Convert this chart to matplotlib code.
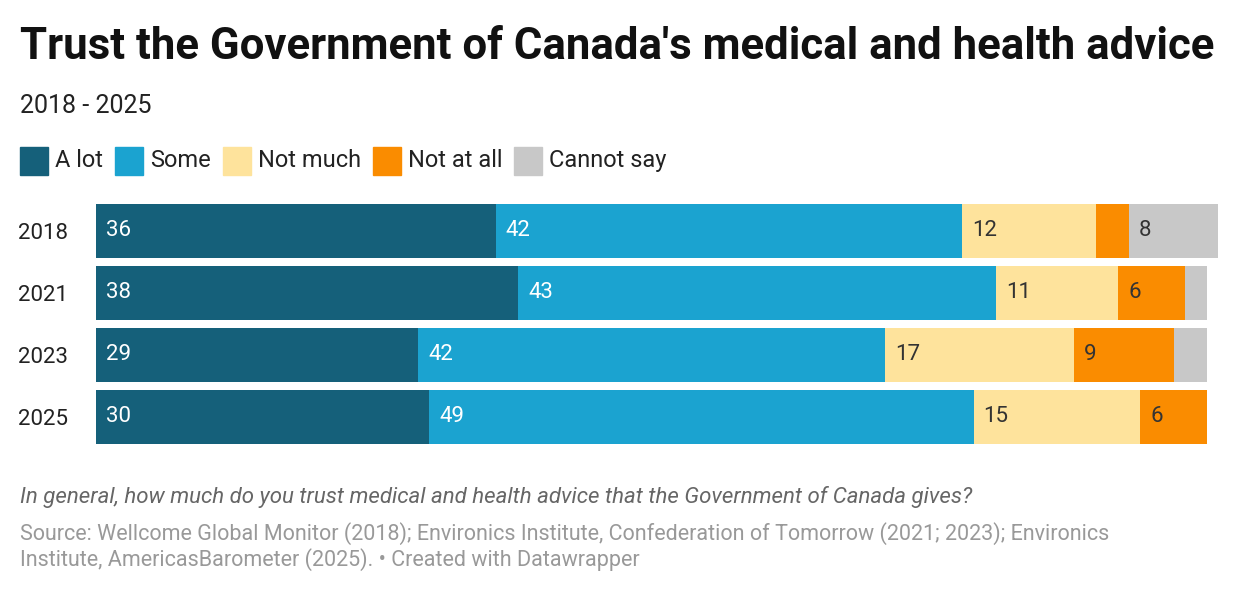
import matplotlib.pyplot as plt
from matplotlib.patches import Rectangle

plt.rcParams['font.family'] = ['Roboto', 'DejaVu Sans']

years = ['2018', '2021', '2023', '2025']
categories = ['A lot', 'Some', 'Not much', 'Not at all', 'Cannot say']
a_lot = [36, 38, 29, 30]
some = [42, 43, 42, 49]
not_much = [12, 11, 17, 15]
not_at_all = [3, 6, 9, 6]
cannot_say = [8, 2, 3, 0]

series = [a_lot, some, not_much, not_at_all, cannot_say]
colors = ['#15607a', '#1ba3d0', '#fee39c', '#fa8c00', '#c8c8c8']
text_colors = ['white', 'white', '#333333', '#333333', '#333333']

fig = plt.figure(figsize=(12.4, 5.94), dpi=100)
ax = fig.add_axes([96 / 1240, 1 - 448 / 594, (1218 - 96) / 1240, 248 / 594])

pos = list(range(len(years)))
left = [0] * len(years)
for vals, col, tcol in zip(series, colors, text_colors):
    ax.barh(pos, vals, left=left, color=col, height=0.87)
    for i, v in enumerate(vals):
        if v >= 5:
            ax.text(left[i] + 0.9, i, str(v), va='center', ha='left',
                    color=tcol, fontsize=16)
    left = [l + v for l, v in zip(left, vals)]

ax.set_xlim(0, 101)
ax.set_ylim(3.5, -0.5)
ax.set_yticks(pos)
ax.set_yticklabels(years, fontsize=16, color='#222222')
ax.tick_params(axis='y', length=0, pad=20)
ax.set_xticks([])
for s in ax.spines.values():
    s.set_visible(False)

fig.text(20 / 1240, 1 - 47 / 594, "Trust the Government of Canada's medical and health advice",
         fontsize=31.5, fontweight='bold', va='center', color='#111111')
fig.text(20 / 1240, 1 - 106 / 594, '2018 - 2025', fontsize=18, va='center', color='#222222')

# legend
lx = 20
for cat, col in zip(categories, colors):
    fig.patches.append(Rectangle((lx / 1240, 1 - 175 / 594), 28 / 1240, 28 / 594,
                                 transform=fig.transFigure, color=col))
    t = fig.text((lx + 35) / 1240, 1 - 161 / 594, cat, fontsize=17, va='center', color='#222222')
    fig.canvas.draw()
    bb = t.get_window_extent()
    lx = bb.x1 + 12

fig.text(20 / 1240, 1 - 497 / 594,
         'In general, how much do you trust medical and health advice that the Government of Canada gives?',
         fontsize=16, style='italic', va='center', color='#666666')
fig.text(20 / 1240, 1 - 534 / 594,
         'Source: Wellcome Global Monitor (2018); Environics Institute, Confederation of Tomorrow (2021; 2023); Environics',
         fontsize=15.5, va='center', color='#999999')
fig.text(20 / 1240, 1 - 560 / 594,
         'Institute, AmericasBarometer (2025). \u2022 Created with Datawrapper',
         fontsize=15.5, va='center', color='#999999')

fig.savefig('out.png', dpi=100, facecolor='white')
